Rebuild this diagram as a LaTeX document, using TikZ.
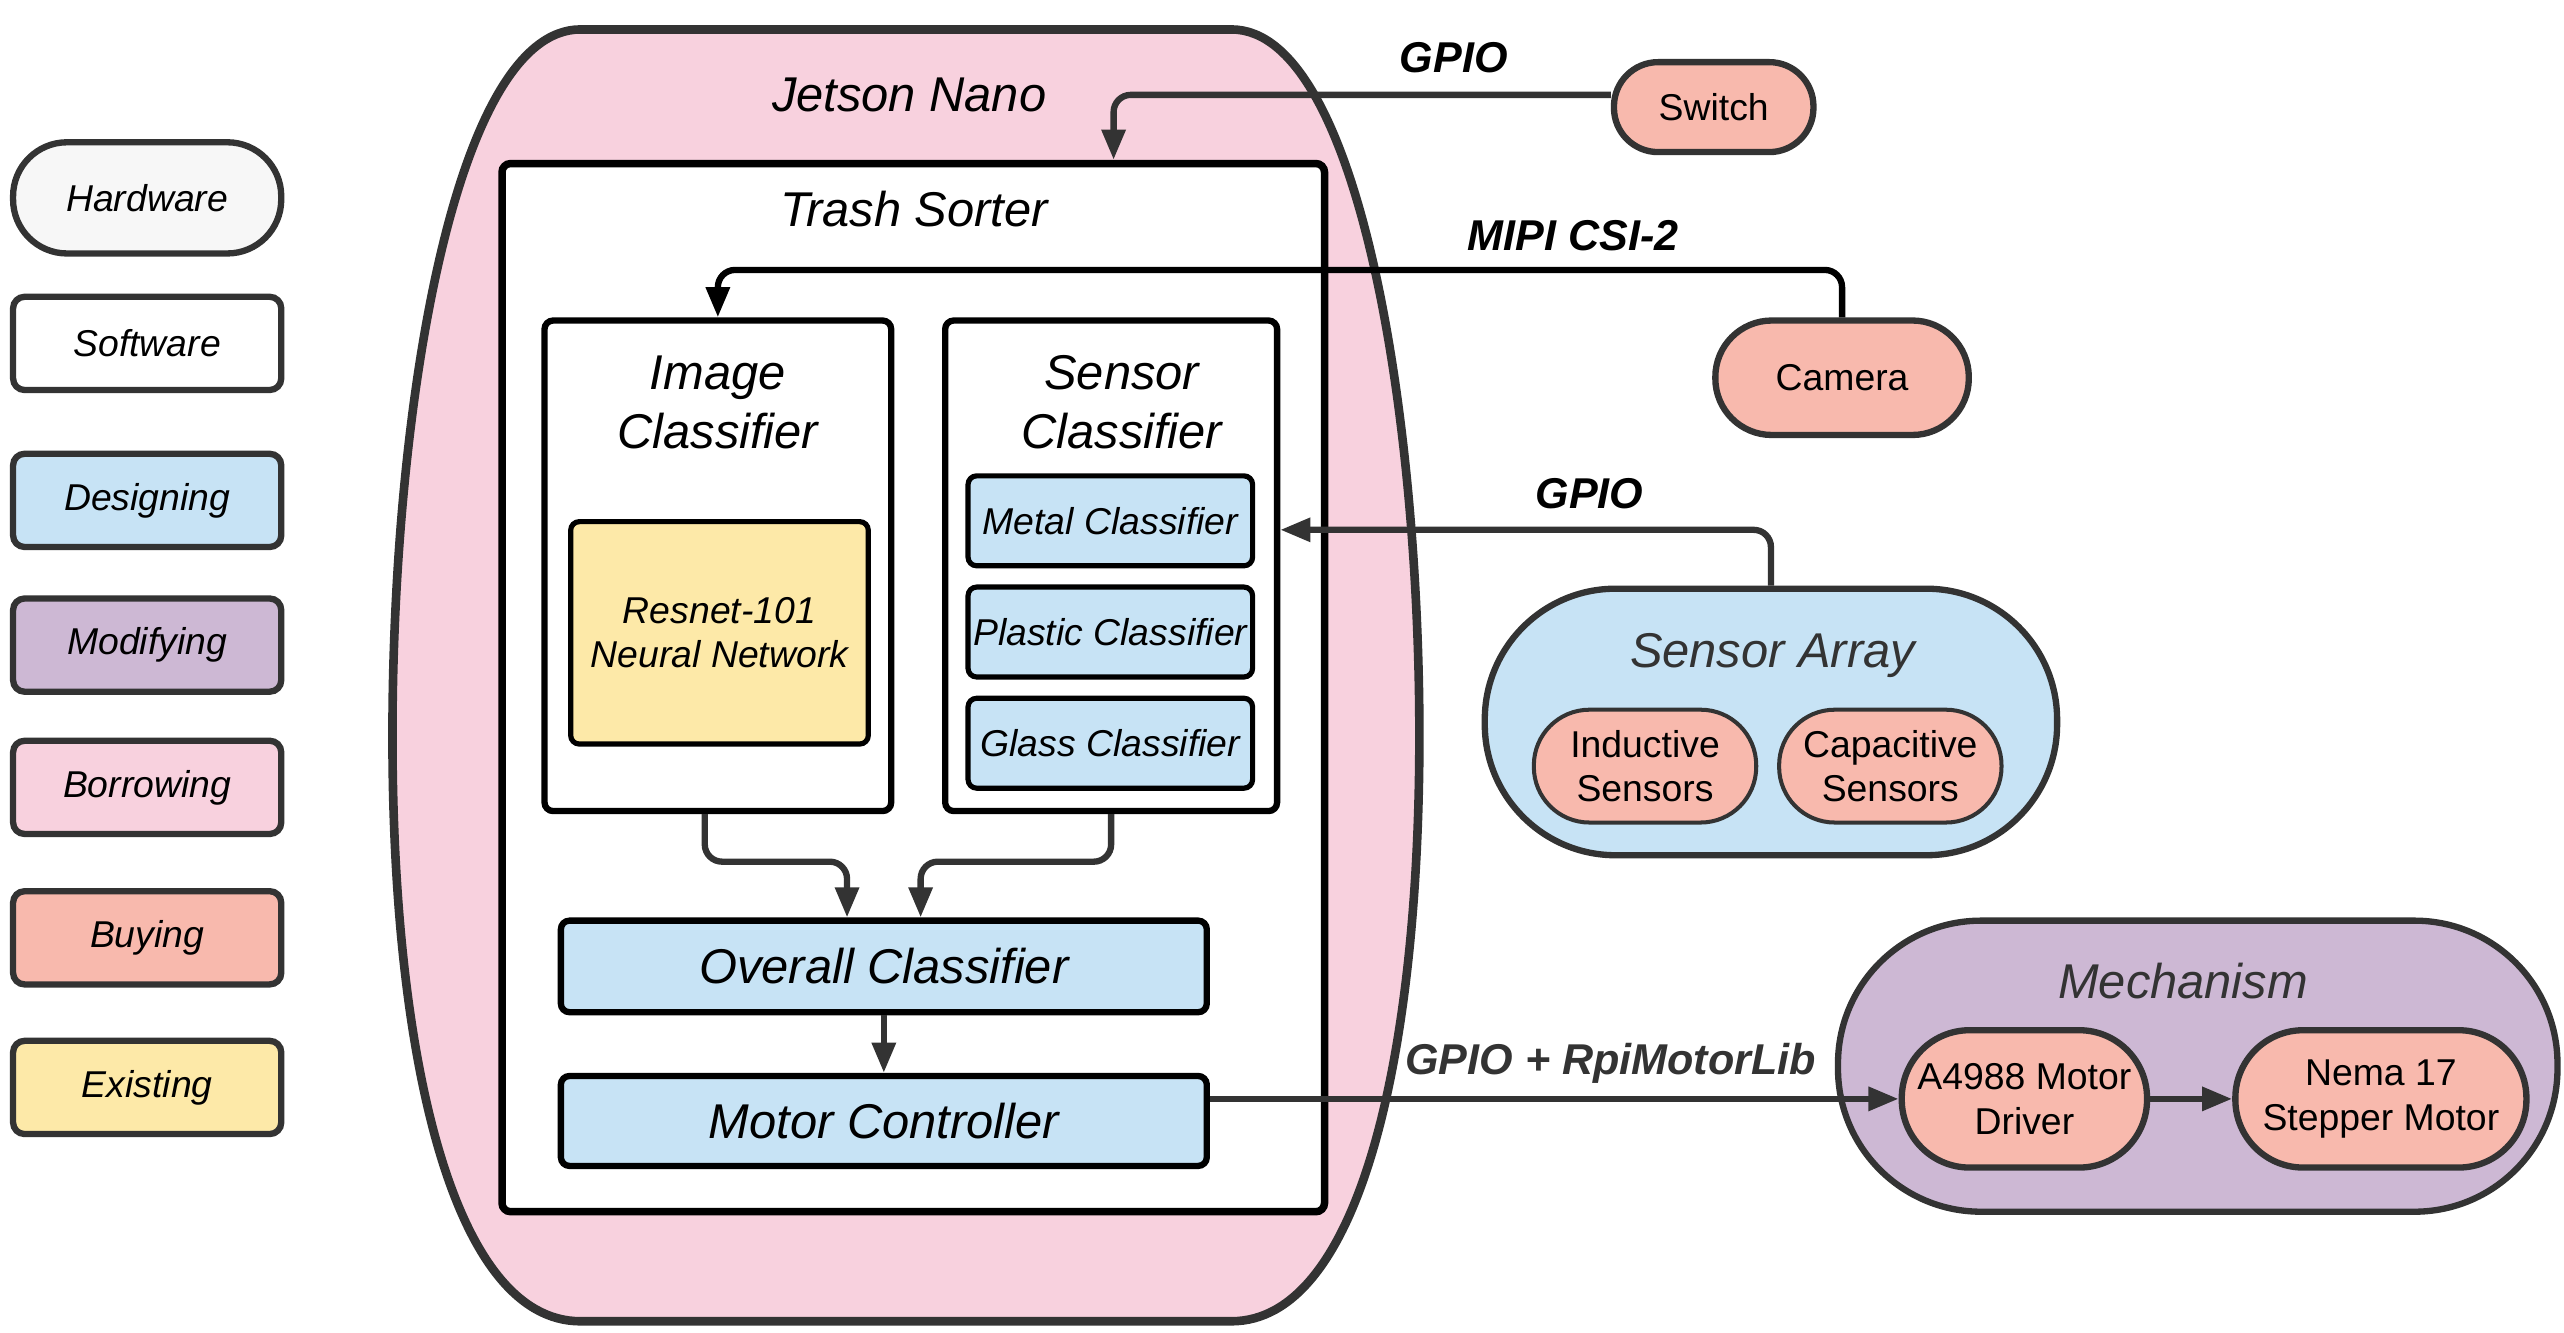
\documentclass[tikz,border=0pt]{standalone}
\usepackage{fontspec}
\setmainfont{Liberation Sans}
\usetikzlibrary{arrows.meta,positioning,calc}

\definecolor{linegray}{HTML}{333333}
\definecolor{design}{HTML}{C7E3F5}
\definecolor{modify}{HTML}{CDB8D4}
\definecolor{borrow}{HTML}{F8D1DE}
\definecolor{buy}{HTML}{F8B9AD}
\definecolor{exist}{HTML}{FDE9A8}
\definecolor{hwfill}{HTML}{F7F7F7}

\newcommand{\txtsmall}{\fontsize{13}{15.5}\selectfont}
\newcommand{\txtbig}{\fontsize{17}{20.5}\selectfont}
\newcommand{\txtlabel}{\fontsize{15}{18}\selectfont\bfseries\itshape}

\tikzset{
  legendbox/.style={draw=linegray, line width=2.2pt, rounded corners=4pt,
    minimum width=3.28cm, minimum height=1.14cm, font=\txtsmall\itshape},
  swbox/.style={draw=black, line width=2.2pt, rounded corners=3pt, fill=white},
  clbox/.style={draw=black, line width=1.8pt, rounded corners=3pt, fill=design,
    minimum width=3.48cm, minimum height=1.1cm, inner sep=1pt, font=\txtsmall\itshape},
  pill/.style={rectangle, rounded corners=#1, draw=linegray, line width=2.2pt,
    fill=buy, align=center, font=\txtsmall, inner sep=0pt},
  conn/.style={draw=linegray, line width=2.2pt, rounded corners=6pt,
    -{Triangle[length=10.5pt,width=8pt]}},
  title/.style={font=\txtbig\itshape, align=center},
  lbl/.style={font=\txtlabel}
}

\begin{document}
\begin{tikzpicture}
  \useasboundingbox (0,0) rectangle (31.36,-16.3);

  % legend
  \node[legendbox, pill=0.66cm, fill=hwfill, minimum height=1.36cm] (lhw) at (1.8,-2.42) {\itshape Hardware};
  \node[legendbox, fill=white] (lsw) at (1.8,-4.2) {Software};
  \node[legendbox, fill=design] (lde) at (1.8,-6.12) {Designing};
  \node[legendbox, fill=modify] (lmo) at (1.8,-7.89) {Modifying};
  \node[legendbox, fill=borrow] (lbo) at (1.8,-9.63) {Borrowing};
  \node[legendbox, fill=buy] (lbu) at (1.8,-11.47) {Buying};
  \node[legendbox, fill=exist] (lex) at (1.8,-13.3) {Existing};

  % Jetson Nano
  \draw[line width=3pt, draw=linegray, fill=borrow]
  (7.1,-0.36) -- (15.06,-0.36) .. controls (16.6,-0.36) and (17.36,-5.0) .. (17.36,-9.0)
  .. controls (17.36,-13.0) and (16.6,-16.16) .. (15.06,-16.16) -- (7.1,-16.16)
  .. controls (5.56,-16.16) and (4.8,-13.0) .. (4.8,-9.0)
  .. controls (4.8,-5.0) and (5.56,-0.36) .. cycle;
  \node[title] (jetson) at (11.12,-1.16) {Jetson Nano};

  % Trash Sorter
  \node[swbox, line width=2.6pt, minimum width=10.06cm, minimum height=12.82cm] (sorter) at (11.17,-8.41) {};
  \node[title] (sortert) at (11.18,-2.56) {Trash Sorter};

  % classifiers
  \node[swbox, minimum width=4.24cm, minimum height=6cm] (img) at (8.78,-6.92) {};
  \node[title] (imgt) at (8.78,-4.92) {Image\\Classifier};
  \node[swbox, fill=exist, line width=1.8pt, minimum width=3.64cm, minimum height=2.72cm,
    font=\txtsmall\itshape, align=center] (resnet) at (8.8,-7.74) {Resnet-101\\Neural Network};
  \node[swbox, minimum width=4.06cm, minimum height=6cm] (scl) at (13.59,-6.92) {};
  \node[title] (sclt) at (13.72,-4.92) {Sensor\\Classifier};
  \node[clbox] (metal) at (13.58,-6.37) {Metal Classifier};
  \node[clbox] (plastic) at (13.58,-7.73) {Plastic Classifier};
  \node[clbox] (glass) at (13.58,-9.09) {Glass Classifier};
  \node[clbox, line width=2.2pt, minimum width=7.9cm, minimum height=1.12cm, font=\txtbig\itshape] (ovr) at (10.81,-11.82) {Overall Classifier};
  \node[clbox, line width=2.2pt, minimum width=7.9cm, minimum height=1.1cm, font=\txtbig\itshape] (mot) at (10.81,-13.71) {Motor Controller};

  % hardware
  \node[pill=0.54cm, minimum width=2.44cm, minimum height=1.1cm] (sw) at (20.96,-1.31) {Switch};
  \node[pill=0.69cm, minimum width=3.1cm, minimum height=1.4cm] (cam) at (22.53,-4.62) {Camera};
  \node[pill=1.6cm, fill=design, minimum width=7cm, minimum height=3.26cm] (arr) at (21.66,-8.83) {};
  \node[title, text=linegray] (arrt) at (21.68,-8.02) {Sensor Array};
  \node[pill=0.68cm, line width=1.4pt, minimum width=2.72cm, minimum height=1.38cm] (ind) at (20.12,-9.37) {Inductive\\Sensors};
  \node[pill=0.68cm, line width=1.4pt, minimum width=2.72cm, minimum height=1.38cm] (cap) at (23.12,-9.37) {Capacitive\\Sensors};
  \node[pill=1.75cm, fill=modify, minimum width=8.8cm, minimum height=3.56cm] (mech) at (26.88,-13.04) {};
  \node[title, text=linegray] (mecht) at (26.7,-12.0) {Mechanism};
  \node[pill=0.83cm, minimum width=3cm, minimum height=1.68cm] (drv) at (24.76,-13.44) {A4988 Motor\\Driver};
  \node[pill=0.83cm, minimum width=3.56cm, minimum height=1.68cm] (nema) at (29.12,-13.44) {Nema 17\\Stepper Motor};

  % connections
  \draw[conn] ([yshift=.15cm]sw.west) -| ([xshift=2.45cm]sorter.north);
  \draw[conn, draw=black] (cam.north) -- ++(0,.58) -| (img.north);
  \draw[conn] (arr.north) |- ([yshift=.44cm]scl.east);
  \draw[conn] ([xshift=-.16cm]img.south) -- ++(0,-.58) -| ([xshift=-.45cm]ovr.north);
  \draw[conn] (scl.south) -- ++(0,-.58) -| ([xshift=.45cm]ovr.north);
  \draw[conn] (ovr.south) -- (mot.north);
  \draw[conn] (mot.east |- drv.west) -- (drv.west);
  \draw[conn] (drv.east) -- (nema.west);

  % link labels
  \node[lbl] (gpio1) at (17.78,-0.7) {GPIO};
  \node[lbl] (mipi) at (19.24,-2.88) {MIPI CSI-2};
  \node[lbl] (gpio2) at (19.44,-6.04) {GPIO};
  \node[lbl, text=linegray] (gpio3) at (19.7,-13.0) {GPIO + RpiMotorLib};
\end{tikzpicture}
\end{document}
